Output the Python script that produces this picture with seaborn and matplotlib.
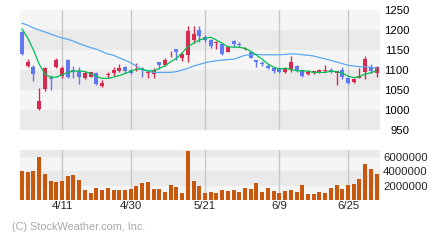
import numpy as np
import pandas as pd
import matplotlib
matplotlib.use("Agg")
import matplotlib.pyplot as plt
import seaborn as sns

# ---------------- data ----------------
opens = [1196, 1110, 1108, 1002, 1052, 1081, 1108, 1086, 1126, 1100,
         1097, 1081, 1083, 1093, 1061, 1088, 1092, 1097, 1107, 1100,
         1109, 1106, 1092, 1090, 1119, 1112, 1139, 1152, 1131, 1137,
         1175, 1201, 1183, 1175, 1168, 1165, 1146, 1172, 1165, 1153,
         1146, 1125, 1118, 1111, 1104, 1102, 1094, 1100, 1110, 1100,
         1091, 1092, 1094, 1097, 1100, 1092, 1100, 1079, 1071, 1081,
         1096, 1107, 1093]
highs = [1197, 1127, 1113, 1054, 1108, 1088, 1129, 1110, 1128, 1110,
         1108, 1097, 1096, 1095, 1075, 1096, 1107, 1115, 1110, 1102,
         1118, 1107, 1098, 1104, 1120, 1129, 1148, 1153, 1143, 1210,
         1210, 1211, 1188, 1177, 1173, 1167, 1160, 1175, 1169, 1158,
         1146, 1126, 1123, 1115, 1108, 1104, 1107, 1135, 1113, 1102,
         1100, 1097, 1102, 1112, 1106, 1098, 1108, 1083, 1079, 1104,
         1135, 1115, 1110]
lows = [1137, 1107, 1073, 1000, 1048, 1050, 1106, 1079, 1081, 1079,
        1066, 1077, 1082, 1062, 1058, 1079, 1086, 1094, 1093, 1091,
        1098, 1083, 1079, 1079, 1102, 1110, 1133, 1125, 1122, 1121,
        1168, 1171, 1169, 1154, 1152, 1137, 1144, 1158, 1157, 1150,
        1129, 1107, 1111, 1102, 1092, 1092, 1092, 1096, 1096, 1083,
        1088, 1089, 1092, 1094, 1093, 1062, 1077, 1065, 1067, 1079,
        1077, 1092, 1083]
closes = [1139, 1121, 1090, 1023, 1104, 1078, 1125, 1104, 1082, 1096,
          1083, 1092, 1094, 1064, 1068, 1090, 1100, 1106, 1098, 1093,
          1111, 1102, 1096, 1100, 1112, 1125, 1141, 1146, 1139, 1198,
          1190, 1184, 1175, 1161, 1170, 1139, 1158, 1165, 1163, 1155,
          1131, 1121, 1116, 1106, 1097, 1096, 1104, 1119, 1100, 1086,
          1094, 1097, 1100, 1099, 1096, 1097, 1083, 1068, 1077, 1085,
          1127, 1098, 1107]
ma_short = [1203, 1180, 1150, 1115, 1090, 1082, 1082, 1088, 1094, 1097,
            1098, 1096, 1091, 1084, 1079, 1079, 1082, 1086, 1091, 1097,
            1102, 1102, 1098, 1098, 1104, 1110, 1121, 1129, 1143, 1158,
            1167, 1175, 1179, 1182, 1175, 1167, 1158, 1157, 1157, 1154,
            1147, 1137, 1127, 1115, 1107, 1103, 1104, 1102, 1098, 1098,
            1097, 1094, 1094, 1094, 1097, 1096, 1092, 1085, 1081, 1083,
            1090, 1093, 1098]
ma_long = [1217, 1212, 1205, 1200, 1195, 1190, 1185, 1180, 1177, 1172,
           1166, 1161, 1156, 1152, 1146, 1140, 1137, 1130, 1125, 1118,
           1110, 1101, 1097, 1094, 1094, 1094, 1094, 1096, 1100, 1104,
           1110, 1114, 1118, 1121, 1123, 1125, 1126, 1127, 1132, 1137,
           1138, 1139, 1138, 1138, 1138, 1138, 1139, 1140, 1140, 1138,
           1137, 1135, 1131, 1128, 1124, 1120, 1116, 1112, 1110, 1108,
           1108, 1107, 1105]
volume_m = [4.06, 3.92, 4.06, 6.06, 3.68, 2.66, 2.52, 2.66, 3.36, 3.54,
            2.80, 1.40, 0.98, 1.68, 1.40, 1.68, 1.40, 1.40, 1.40, 1.54,
            1.96, 2.38, 2.52, 1.54, 1.54, 1.12, 2.10, 1.82, 0.98, 6.85,
            2.66, 1.96, 0.98, 1.12, 0.98, 1.40, 1.26, 1.40, 1.12, 1.68,
            1.54, 2.38, 1.12, 1.68, 1.26, 0.98, 1.26, 1.40, 1.12, 2.10,
            0.84, 0.84, 1.12, 0.98, 1.68, 2.10, 1.54, 2.10, 2.24, 2.94,
            5.03, 4.34, 3.64]
date_labels = ["4/11", "4/30", "5/21", "6/9", "6/25"]
date_index = [7, 19, 32, 45, 57]
price_ticks = [950, 1000, 1050, 1100, 1150, 1200, 1250]
volume_ticks = [2000000, 4000000, 6000000]

# ---------------- style ----------------
sns.set_style("white")
plt.rcParams["font.family"] = ["Liberation Sans", "DejaVu Sans"]

RED = "#d82a4e"
BLUE = "#6079f2"
VOLC = "#c8580e"
GREEN = "#00c04f"
LBLUE = "#5aa8f2"
LIGHT = "#f5f5f5"
DARK = "#eaeaea"
GRID = "#c8c8c8"

n = len(opens)
idx = np.arange(n)
df = pd.DataFrame({"i": idx, "open": opens, "high": highs, "low": lows,
                   "close": closes, "ma_s": ma_short, "ma_l": ma_long,
                   "vol": np.array(volume_m) * 1e6})

W, H = 440, 240
fig = plt.figure(figsize=(W / 100, H / 100), dpi=100)
fig.patch.set_facecolor("white")

def frac(x0, y0, x1, y1):
    return [x0 / W, 1 - y1 / H, (x1 - x0) / W, (y1 - y0) / H]

ax = fig.add_axes(frac(20, 10, 380, 130))
axv = fig.add_axes(frac(20, 150, 380, 200))
xlim = (-0.35, n - 0.4)

# ---- price panel ----
for k, (a, b) in enumerate(zip(price_ticks[:-1], price_ticks[1:])):
    ax.axhspan(a, b, color=DARK if k % 2 == 0 else LIGHT, lw=0, zorder=0)
for d in date_index:
    ax.axvline(d, color=GRID, lw=1, zorder=1)

up = df["close"] >= df["open"]
colors = np.where(up, RED, BLUE)
ax.vlines(df["i"], df["low"], df["high"], colors=colors, lw=1, zorder=3)
body = (df["close"] - df["open"]).abs().clip(lower=1.2)
bottom = np.minimum(df["open"], df["close"])
ax.bar(df["i"], body, bottom=bottom, width=0.7, color=colors, lw=0, zorder=4)

sns.lineplot(data=df, x="i", y="ma_l", color=LBLUE, lw=0.9, ax=ax, zorder=5)
sns.lineplot(data=df, x="i", y="ma_s", color=GREEN, lw=0.9, ax=ax, zorder=6)

ax.set_xlim(*xlim)
ax.set_ylim(price_ticks[0], price_ticks[-1])
ax.set_xticks([])
ax.set_yticks(price_ticks)
ax.set_yticklabels([str(t) for t in price_ticks])
ax.yaxis.tick_right()
ax.tick_params(axis="y", length=0, pad=21, labelsize=8.2, colors="black")
for lbl in ax.get_yticklabels():
    lbl.set_horizontalalignment("right")
ax.set_xlabel("")
ax.set_ylabel("")
for s in ax.spines.values():
    s.set_visible(False)

# ---- volume panel ----
vb = [0, 2e6, 4e6, 6e6, 7e6]
for k, (a, b) in enumerate(zip(vb[:-1], vb[1:])):
    axv.axhspan(a, b, color=LIGHT if k % 2 == 0 else DARK, lw=0, zorder=0)
for d in date_index:
    axv.axvline(d, color=GRID, lw=1, zorder=1)
sns.barplot(data=df, x="i", y="vol", color=VOLC, saturation=1, width=0.7,
            linewidth=0, ax=axv, zorder=3)
axv.set_xlim(*xlim)
axv.set_ylim(0, 7e6)
axv.set_yticks(volume_ticks)
axv.set_yticklabels([str(t) for t in volume_ticks])
axv.yaxis.tick_right()
axv.tick_params(axis="y", length=0, pad=2.2, labelsize=8.2)
axv.set_xticks(date_index)
axv.set_xticklabels(date_labels)
axv.tick_params(axis="x", length=0, pad=1.0, labelsize=8.2)
axv.set_xlabel("")
axv.set_ylabel("")
for s in axv.spines.values():
    s.set_visible(False)

fig.text(12 / W, 1 - 226.7 / H, "(C) StockWeather.com, Inc.", color="#a8a8a8",
         fontsize=7.8, va="center", ha="left")

fig.savefig("out.png", dpi=100, facecolor="white")
